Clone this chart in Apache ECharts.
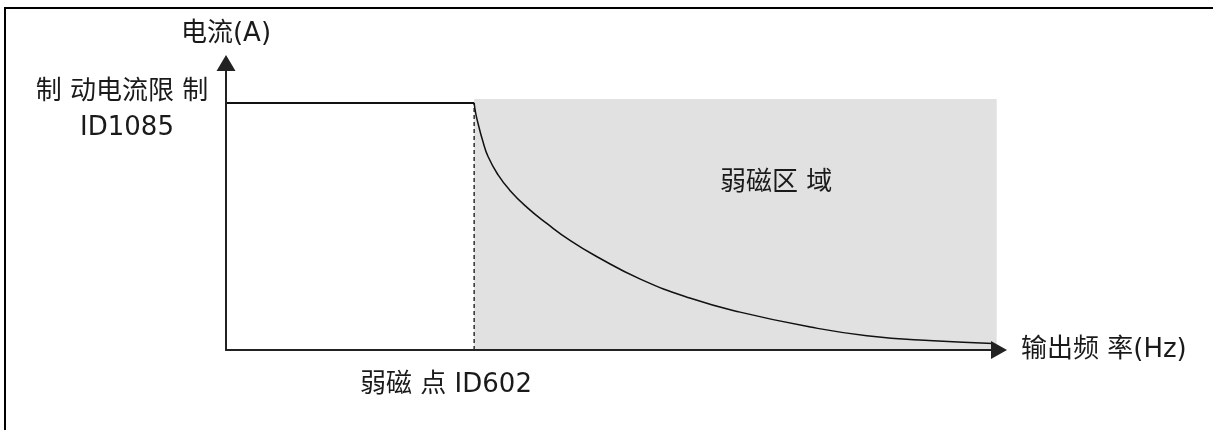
<!DOCTYPE html>
<html>
<head>
<meta charset="utf-8">
<script src="https://cdn.jsdelivr.net/npm/echarts@6/dist/echarts.min.js"></script>
<style>
  html, body { margin: 0; padding: 0; background: #fff; }
  #chart { width: 1213px; height: 430px; }
</style>
</head>
<body>
<div id="chart"></div>
<script>
    // 数据 (相对单位 0-100)
    var limitCurrent = 86.1;      // 制动电流限制 ID1085
    var weakPoint = 32.1;         // 弱磁点 ID602
    var regionTop = 87.5;
    var regionEnd = 99.7;

    var curveFreq = [32.1, 32.3, 32.6, 33.2, 33.9, 35.2, 36.7, 38.9, 41.5, 44.6, 48.0, 53.6, 60.0, 66.5, 75.6, 82.9, 91.5, 99.2];
    var curveCurrent = [86.1, 82.5, 79.0, 73.0, 67.4, 61.0, 55.7, 49.8, 44.1, 38.0, 32.5, 24.7, 18.1, 13.2, 8.0, 5.0, 3.2, 2.3];

    var font = '"DejaVu Sans", "Noto Sans CJK SC", sans-serif';
    var textColor = '#1a1a1a';
    var fontSize = 26;

    var curveData = [];
    for (var i = 0; i < curveFreq.length; i++) {
        curveData.push([curveFreq[i], curveCurrent[i]]);
    }

    var chart = echarts.init(document.getElementById('chart'));

    var option = {
        animation: false,
        backgroundColor: '#fff',
        grid: {
            left: 226,
            right: 214,
            top: 63,
            bottom: 80,
            outerBoundsMode: 'none'
        },
        xAxis: {
            type: 'value',
            min: 0,
            max: 100,
            z: 10,
            name: '输出频 率(Hz)',
            nameLocation: 'end',
            nameGap: 22,
            nameTextStyle: { fontSize: fontSize, fontFamily: font, color: textColor },
            axisLine: {
                show: true,
                symbol: ['none', 'triangle'],
                symbolSize: [18, 16],
                lineStyle: { color: '#222', width: 2 }
            },
            axisTick: { show: false },
            axisLabel: { show: false },
            splitLine: { show: false }
        },
        yAxis: {
            type: 'value',
            min: 0,
            max: 100,
            z: 10,
            name: '电流(A)',
            nameLocation: 'end',
            nameGap: 16,
            nameTextStyle: { fontSize: fontSize, fontFamily: font, color: textColor, align: 'center' },
            axisLine: {
                show: true,
                symbol: ['none', 'triangle'],
                symbolSize: [19, 16],
                lineStyle: { color: '#222', width: 2 }
            },
            axisTick: { show: false },
            axisLabel: { show: false },
            splitLine: { show: false }
        },
        series: [
            {
                // 弱磁区域 + 曲线
                type: 'line',
                data: curveData,
                smooth: 0.5,
                showSymbol: false,
                lineStyle: { color: '#111', width: 1.5 },
                z: 3,
                markArea: {
                    silent: true,
                    itemStyle: { color: '#e1e1e1' },
                    label: {
                        show: true,
                        position: [302, 84],
                        align: 'center',
                        verticalAlign: 'middle',
                        fontSize: fontSize,
                        fontFamily: font,
                        color: textColor
                    },
                    data: [[
                        { name: '弱磁区 域', xAxis: weakPoint, yAxis: 0 },
                        { xAxis: regionEnd, yAxis: regionTop }
                    ]]
                }
            },
            {
                // 电流限制
                type: 'line',
                data: [[0, limitCurrent], [weakPoint, limitCurrent]],
                showSymbol: false,
                lineStyle: { color: '#111', width: 2 },
                z: 4
            },
            {
                // 弱磁点虚线
                type: 'line',
                data: [[weakPoint, 0], [weakPoint, limitCurrent]],
                showSymbol: false,
                lineStyle: { color: '#111', width: 1.3, type: [4, 3] },
                z: 4
            }
        ],
        graphic: [
            {
                type: 'rect',
                shape: { x: 5, y: 8, width: 1400, height: 600 },
                style: { fill: 'none', stroke: '#000', lineWidth: 2 },
                silent: true
            },
            {
                type: 'text',
                style: { text: '制 动电流限 制', x: 122, y: 92, align: 'center', verticalAlign: 'middle', fontSize: fontSize, fontFamily: font, fill: textColor }
            },
            {
                type: 'text',
                style: { text: 'ID1085', x: 127, y: 128, align: 'center', verticalAlign: 'middle', fontSize: fontSize, fontFamily: font, fill: textColor }
            },
            {
                type: 'text',
                style: { text: '弱磁 点 ID602', x: 446, y: 385, align: 'center', verticalAlign: 'middle', fontSize: fontSize, fontFamily: font, fill: textColor }
            }
        ]
    };

    chart.setOption(option);
</script>
</body>
</html>
